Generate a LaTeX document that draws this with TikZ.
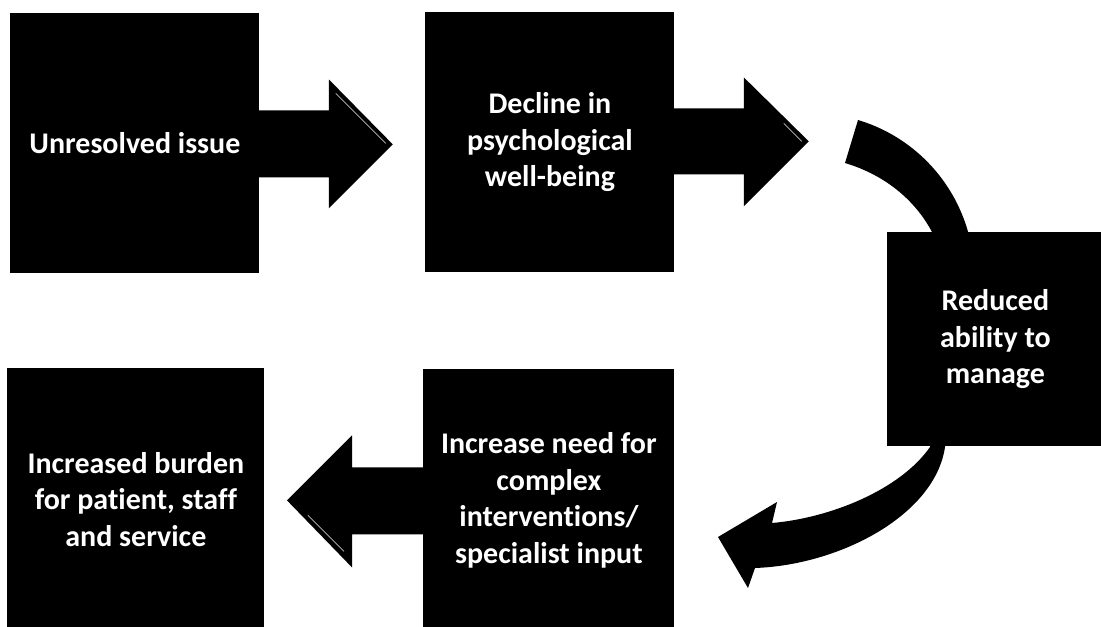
\documentclass[tikz,border=0pt]{standalone}
\usepackage{fontspec}
\setmainfont{Carlito}[Ligatures=NoCommon]
\usetikzlibrary{calc}
\begin{document}
\begin{tikzpicture}[x=0.5pt,y=-0.5pt,
  stage/.style={fill=black, text=white, font=\bfseries\fontsize{15}{18.3}\selectfont,
    align=center, inner sep=0pt, anchor=north west},
  flow/.style={fill=black},
  glint/.style={draw=white!75!black, line width=0.4pt}]
\useasboundingbox (0,0) rectangle (1101,626);
\clip (0,0) rectangle (1101,626);

% curved connectors, passing behind the "Reduced ability" box
\fill[flow] (858,120) arc[start angle=-73.3, end angle=4, radius=163]
  -- (932,285) -- (932,232) .. controls (915,200) and (885,175) .. (845,163) -- cycle;
\fill[flow] (950,420) -- (945,447) .. controls (935,515) and (840,565) .. (755,568)
  -- (748,588) -- (718,537) -- (777,502) -- (772,523)
  .. controls (830,518) and (900,490) .. (930,447) -- (934,420) -- cycle;

% stages
\node[stage, minimum width=124.5pt, minimum height=130pt] (b1) at (10,13) {Unresolved issue};
\node[stage, minimum width=124.5pt, minimum height=130pt] (b2) at (425,12) {Decline in\\psychological\\well-being};
\node[stage, minimum width=108pt, minimum height=107pt] (b3) at (887,232) {Reduced\\ability to\\manage};
\node[stage, minimum width=128.5pt, minimum height=131pt] (b4) at (7,368) {Increased burden\\for patient, staff\\and service};
\node[stage, minimum width=125.5pt, minimum height=131pt] (b5) at (423,369) {Increase need for\\complex\\interventions/\\specialist input};

% block arrows between stages
\fill[flow, shift={(b1.east)}] (-2,-33) -- (69,-33) -- (69,-64) -- (133,1) -- (69,65) -- (69,34) -- (-2,34) -- cycle;
\draw[glint, shift={(b1.east)}] (76,-50) -- (126,0);
\fill[flow, shift={(b2.east)}] (-2,-34) -- (69,-34) -- (69,-65) -- (134,-1) -- (69,64) -- (69,32) -- (-2,32) -- cycle;
\draw[glint, shift={(b2.east)}] (109,-19) -- (127,-1);
\fill[flow, shift={(b5.west)}, xscale=-1] (-2,-33) -- (71,-33) -- (71,-65) -- (136,0) -- (71,67) -- (71,34) -- (-2,34) -- cycle;
\draw[glint, shift={(b5.west)}, xscale=-1] (115,15) -- (79,51);
\end{tikzpicture}
\end{document}
